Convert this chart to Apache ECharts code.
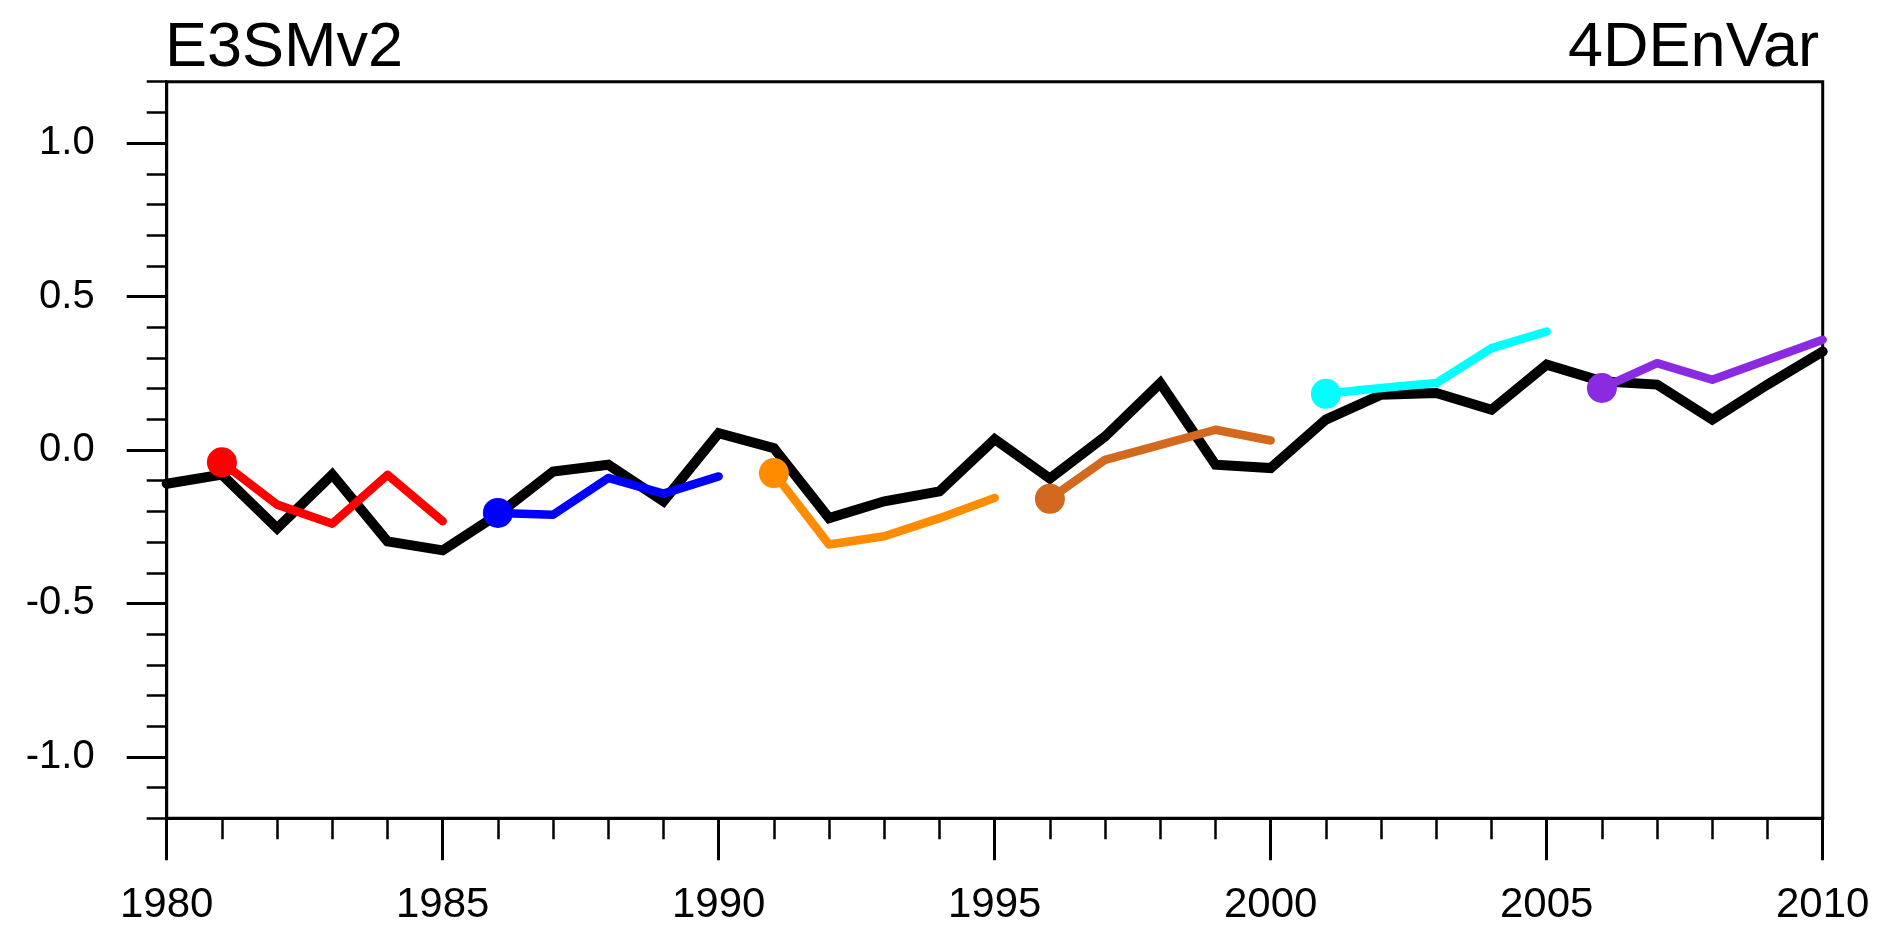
<!DOCTYPE html>
<html>
<head>
<meta charset="utf-8">
<script src="https://cdn.jsdelivr.net/npm/echarts@6/dist/echarts.min.js"></script>
<style>
  html, body { margin: 0; padding: 0; background: #fff; }
  #chart { width: 1892px; height: 945px; }
</style>
</head>
<body>
<div id="chart"></div>
<script>
// observed series, one value per year
var years = [];
for (var y = 1980; y <= 2010; y++) years.push(y);
var obsValues = [-0.11, -0.08, -0.255, -0.08, -0.298, -0.327, -0.21, -0.07, -0.048, -0.167,
  0.055, 0.006, -0.222, -0.167, -0.135, 0.035, -0.093, 0.044, 0.218, -0.048,
  -0.059, 0.099, 0.18, 0.186, 0.131, 0.278, 0.224, 0.213, 0.099, 0.213, 0.321];

// 5-year hindcasts, each starts at its own year
var hindStarts = [1981, 1986, 1991, 1996, 2001, 2006];
var hindColors = ['#ff0000', '#0000ff', '#ff8c00', '#d2691e', '#00ffff', '#8a2be2'];
var hind1981 = [-0.040, -0.178, -0.240, -0.081, -0.232];
var hind1986 = [-0.205, -0.211, -0.091, -0.142, -0.086];
var hind1991 = [-0.075, -0.308, -0.281, -0.222, -0.156];
var hind1996 = [-0.159, -0.032, 0.017, 0.066, 0.031];
var hind2001 = [0.183, 0.202, 0.218, 0.332, 0.386];
var hind2006 = [0.202, 0.283, 0.229, 0.294, 0.359];
var hindValues = [hind1981, hind1986, hind1991, hind1996, hind2001, hind2006];

var yMajorTicks = [-1.0, -0.5, 0.0, 0.5, 1.0];

var FONT = 'Liberation Sans';

var chart = echarts.init(document.getElementById('chart'), null, { renderer: 'canvas' });

var series = [{
  type: 'line',
  data: years.map(function (yr, i) { return [yr, obsValues[i]]; }),
  symbol: 'none',
  clip: false,
  lineStyle: { color: '#000', width: 10, join: 'miter', cap: 'round' },
  z: 2
}];

for (var k = 0; k < hindStarts.length; k++) {
  series.push({
    type: 'line',
    data: hindValues[k].map(function (v, i) { return [hindStarts[k] + i, v]; }),
    symbol: 'circle',
    showAllSymbol: true,
    symbolSize: function (val, params) { return params.dataIndex === 0 ? 30 : 0; },
    clip: false,
    itemStyle: { color: hindColors[k] },
    lineStyle: { color: hindColors[k], width: 8.5, cap: 'round', join: 'round' },
    z: 3
  });
}

var option = {
  animation: false,
  backgroundColor: '#fff',
  title: [{
    text: 'E3SMv2', left: 160, top: 12,
    textStyle: { fontFamily: FONT, fontSize: 63, fontWeight: 'normal', color: '#000' }
  }, {
    text: '4DEnVar', right: 68, top: 12,
    textStyle: { fontFamily: FONT, fontSize: 63, fontWeight: 'normal', color: '#000' }
  }],
  grid: {
    left: 166.7, right: 69.3, top: 81.7, bottom: 126.7,
    show: true, borderColor: '#000', borderWidth: 3, backgroundColor: 'transparent'
  },
  xAxis: {
    type: 'value',
    min: 1980, max: 2010, interval: 5,
    axisLine: { show: true, onZero: false, lineStyle: { color: '#000', width: 3 } },
    axisTick: { show: true, length: 42, lineStyle: { color: '#000', width: 3 } },
    minorTick: { show: true, splitNumber: 5, length: 21, lineStyle: { color: '#000', width: 2.5 } },
    splitLine: { show: false },
    axisLabel: {
      fontFamily: FONT, fontSize: 42, color: '#000', margin: 66,
      formatter: function (v) { return String(v); }
    }
  },
  yAxis: [{
    type: 'value',
    min: -1.2, max: 1.2,
    axisLine: { show: true, onZero: false, lineStyle: { color: '#000', width: 3 } },
    axisTick: { show: true, length: 40, customValues: yMajorTicks, lineStyle: { color: '#000', width: 3 } },
    splitLine: { show: false },
    axisLabel: {
      fontFamily: FONT, fontSize: 40, color: '#000', margin: 72,
      customValues: yMajorTicks,
      formatter: function (v) { return v.toFixed(1); }
    }
  }, {
    type: 'value',
    min: -1.2, max: 1.2, interval: 0.1,
    position: 'left',
    axisLine: { show: false, onZero: false },
    axisTick: { show: true, length: 20, lineStyle: { color: '#000', width: 2.5 } },
    splitLine: { show: false },
    axisLabel: { show: false }
  }],
  series: series
};

chart.setOption(option);
</script>
</body>
</html>
